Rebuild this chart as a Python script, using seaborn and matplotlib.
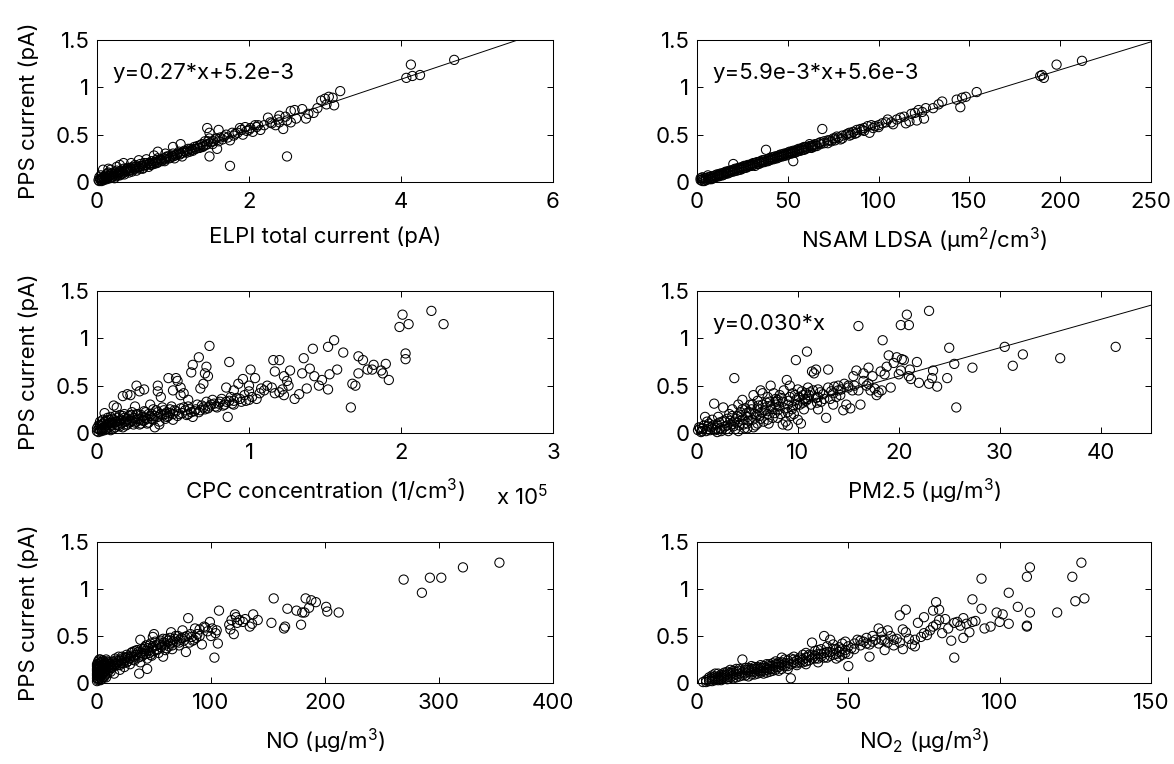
import numpy as np
import pandas as pd
import matplotlib
matplotlib.use("Agg")
import matplotlib.pyplot as plt
from matplotlib.ticker import FuncFormatter, FormatStrFormatter
import seaborn as sns

# ---------------- data ----------------
# Panel 1: ELPI total current (pA) vs PPS current (pA)
elpi_pts = [
    (0.02, 0.02), (0.03, 0.01), (0.04, 0.03), (0.05, 0.02), (0.06, 0.04), (0.07, 0.03), (0.08, 0.05),
    (0.10, 0.03), (0.10, 0.06), (0.12, 0.04), (0.12, 0.08), (0.14, 0.05), (0.15, 0.10), (0.16, 0.06),
    (0.18, 0.07), (0.20, 0.05), (0.20, 0.09), (0.22, 0.08), (0.24, 0.10), (0.25, 0.06), (0.26, 0.12),
    (0.28, 0.09), (0.30, 0.10), (0.30, 0.07), (0.32, 0.12), (0.34, 0.09), (0.35, 0.14), (0.37, 0.11),
    (0.40, 0.12), (0.40, 0.15), (0.42, 0.10), (0.45, 0.13), (0.47, 0.16), (0.50, 0.14), (0.50, 0.18),
    (0.52, 0.12), (0.55, 0.16), (0.57, 0.19), (0.60, 0.17), (0.60, 0.14), (0.62, 0.20), (0.65, 0.18),
    (0.68, 0.16), (0.70, 0.20), (0.72, 0.22), (0.75, 0.19), (0.78, 0.23), (0.80, 0.21), (0.80, 0.25),
    (0.85, 0.22), (0.88, 0.25), (0.90, 0.24), (0.92, 0.27), (0.95, 0.25), (1.00, 0.27), (1.00, 0.30),
    (1.02, 0.25), (1.05, 0.29), (1.08, 0.32), (1.10, 0.30), (1.12, 0.27), (1.15, 0.33), (1.18, 0.31),
    (1.20, 0.35), (1.22, 0.32), (1.25, 0.34), (1.28, 0.37), (1.30, 0.35), (1.32, 0.38), (1.35, 0.36),
    (1.38, 0.40), (1.40, 0.38), (1.42, 0.43), (1.45, 0.40), (1.48, 0.46), (1.50, 0.42), (1.52, 0.40),
    (1.55, 0.45), (1.60, 0.43), (1.62, 0.47), (1.65, 0.45), (1.70, 0.50), (1.72, 0.47), (1.75, 0.44),
    (1.78, 0.52), (1.80, 0.49), (1.85, 0.52), (1.88, 0.57), (1.90, 0.55), (1.92, 0.50), (1.95, 0.58),
    (2.00, 0.55), (2.05, 0.53), (2.08, 0.60), (2.10, 0.58), (2.15, 0.55), (2.20, 0.60), (2.25, 0.68),
    (2.30, 0.62), (2.35, 0.60), (2.40, 0.63), (2.45, 0.56), (2.40, 0.70), (2.50, 0.65), (2.55, 0.75),
    (2.60, 0.76), (2.55, 0.63), (2.62, 0.67), (2.70, 0.77), (2.75, 0.67), (2.78, 0.72), (2.85, 0.73),
    (2.90, 0.78), (2.95, 0.86), (3.00, 0.88), (3.02, 0.82), (3.05, 0.90), (3.10, 0.89), (3.12, 0.81),
    (3.20, 0.96), (0.08, 0.13), (0.15, 0.14), (0.30, 0.18), (0.35, 0.20), (0.55, 0.23), (0.75, 0.28),
    (0.80, 0.32), (1.00, 0.37), (1.10, 0.40), (1.45, 0.57), (1.48, 0.52), (1.60, 0.55), (1.58, 0.35),
    (1.48, 0.27), (1.75, 0.17), (2.50, 0.27), (4.07, 1.10), (4.13, 1.24), (4.15, 1.12), (4.25, 1.13),
    (4.70, 1.29),
    (0.03, 0.05), (0.05, 0.07), (0.06, 0.01), (0.09, 0.02), (0.11, 0.05), (0.13, 0.03), (0.14, 0.09),
    (0.17, 0.04), (0.19, 0.09), (0.21, 0.06), (0.23, 0.04), (0.25, 0.09), (0.27, 0.07), (0.29, 0.11),
    (0.31, 0.08), (0.33, 0.10), (0.36, 0.08), (0.38, 0.13), (0.41, 0.14), (0.43, 0.12), (0.44, 0.15),
    (0.46, 0.11), (0.48, 0.14), (0.51, 0.16), (0.53, 0.15), (0.56, 0.14), (0.58, 0.17), (0.61, 0.15),
    (0.63, 0.18), (0.66, 0.20), (0.69, 0.19), (0.71, 0.18), (0.73, 0.20), (0.76, 0.21), (0.79, 0.20),
    (0.82, 0.23), (0.84, 0.24), (0.86, 0.23), (0.89, 0.22), (0.91, 0.26), (0.94, 0.27), (0.97, 0.26),
    (0.99, 0.28), (1.03, 0.28), (1.06, 0.30), (1.09, 0.29), (1.13, 0.31), (1.16, 0.32), (1.19, 0.33),
    (1.23, 0.35), (1.26, 0.33), (1.29, 0.35), (1.33, 0.36), (1.36, 0.39), (1.39, 0.37), (1.43, 0.39),
    (1.46, 0.43), (1.53, 0.43), (1.57, 0.46), (1.67, 0.48), (1.82, 0.51), (1.97, 0.54), (2.02, 0.57),
    (2.12, 0.60), (2.28, 0.63), (2.38, 0.66), (2.48, 0.69), (0.18, 0.13), (0.26, 0.16), (0.45, 0.20),
    (0.65, 0.24), (0.90, 0.30),
]

# Panel 2: NSAM LDSA (um2/cm3) vs PPS current
ldsa_pts = [
    (2, 0.02), (3, 0.03), (4, 0.01), (5, 0.04), (6, 0.03), (7, 0.05), (8, 0.04), (9, 0.06), (10, 0.07),
    (11, 0.06), (12, 0.08), (13, 0.07), (14, 0.09), (15, 0.10), (16, 0.09), (17, 0.11), (18, 0.10),
    (19, 0.12), (20, 0.13), (21, 0.12), (22, 0.14), (23, 0.13), (24, 0.15), (25, 0.16), (26, 0.15),
    (27, 0.17), (28, 0.16), (29, 0.18), (30, 0.19), (31, 0.18), (32, 0.20), (33, 0.19), (34, 0.21),
    (35, 0.22), (36, 0.21), (37, 0.23), (38, 0.22), (39, 0.24), (40, 0.25), (41, 0.24), (42, 0.26),
    (43, 0.25), (44, 0.27), (45, 0.28), (46, 0.27), (47, 0.29), (48, 0.28), (49, 0.30), (50, 0.31),
    (51, 0.30), (52, 0.32), (53, 0.31), (54, 0.33), (55, 0.34), (56, 0.33), (57, 0.35), (58, 0.36),
    (59, 0.34), (60, 0.37), (62, 0.38), (63, 0.36), (64, 0.39), (65, 0.40), (66, 0.38), (68, 0.42),
    (70, 0.43), (72, 0.41), (73, 0.44), (75, 0.46), (76, 0.44), (78, 0.47), (80, 0.49), (82, 0.50),
    (84, 0.52), (85, 0.50), (86, 0.53), (88, 0.55), (90, 0.56), (92, 0.57), (94, 0.59), (95, 0.52),
    (96, 0.60), (98, 0.59), (100, 0.60), (102, 0.62), (105, 0.66), (107, 0.63), (110, 0.66),
    (112, 0.68), (114, 0.69), (115, 0.62), (117, 0.64), (118, 0.72), (120, 0.73), (121, 0.65),
    (122, 0.76), (124, 0.74), (125, 0.67), (126, 0.78), (130, 0.78), (133, 0.82), (135, 0.85),
    (143, 0.87), (145, 0.79), (146, 0.89), (148, 0.90), (154, 0.95), (189, 1.12), (190, 1.13),
    (191, 1.10), (198, 1.24), (212, 1.28), (38, 0.34), (53, 0.22), (69, 0.56), (20, 0.19), (6, 0.07),
    (3, 0.05), (8, 0.03), (12, 0.06), (16, 0.11), (20, 0.11), (24, 0.13), (28, 0.18), (32, 0.17),
    (36, 0.23), (40, 0.23), (44, 0.25), (48, 0.30), (52, 0.30), (56, 0.35), (60, 0.35), (64, 0.37),
    (68, 0.40), (72, 0.44), (76, 0.46), (80, 0.46), (84, 0.49), (88, 0.52), (92, 0.54), (100, 0.58),
    (104, 0.63), (108, 0.61),
    (2, 0.04), (3, 0.01), (4, 0.04), (5, 0.02), (6, 0.05), (7, 0.03), (8, 0.06), (9, 0.04), (10, 0.05),
    (11, 0.08), (12, 0.07), (13, 0.09), (14, 0.07), (15, 0.08), (16, 0.10), (17, 0.09), (18, 0.12),
    (19, 0.11), (21, 0.14), (22, 0.12), (23, 0.15), (25, 0.14), (26, 0.17), (27, 0.15), (29, 0.17),
    (30, 0.17), (31, 0.20), (33, 0.21), (34, 0.19), (35, 0.20), (37, 0.21), (39, 0.22), (41, 0.26),
    (42, 0.24), (43, 0.27), (45, 0.26), (46, 0.29), (47, 0.27), (49, 0.28), (50, 0.29), (51, 0.32),
    (53, 0.33), (54, 0.31), (55, 0.32), (57, 0.33), (58, 0.34), (59, 0.37), (61, 0.36), (62, 0.40),
    (63, 0.38), (65, 0.38), (67, 0.41), (70, 0.41), (74, 0.43), (77, 0.48), (79, 0.45), (83, 0.51),
    (87, 0.51), (91, 0.55), (97, 0.57),
]

# Panel 3: CPC concentration (in units of 1e5 1/cm3) vs PPS current
cpc_pts = [
    (0.00, 0.02), (0.01, 0.04), (0.02, 0.03), (0.02, 0.08), (0.03, 0.05), (0.04, 0.10), (0.05, 0.06),
    (0.05, 0.12), (0.06, 0.04), (0.07, 0.09), (0.08, 0.14), (0.08, 0.06), (0.09, 0.11), (0.10, 0.08),
    (0.10, 0.15), (0.11, 0.05), (0.12, 0.12), (0.13, 0.09), (0.14, 0.16), (0.15, 0.07), (0.15, 0.13),
    (0.16, 0.10), (0.17, 0.18), (0.18, 0.12), (0.19, 0.08), (0.20, 0.15), (0.21, 0.11), (0.22, 0.19),
    (0.23, 0.13), (0.24, 0.09), (0.25, 0.16), (0.26, 0.12), (0.27, 0.20), (0.28, 0.14), (0.29, 0.10),
    (0.30, 0.17), (0.31, 0.13), (0.32, 0.22), (0.33, 0.15), (0.34, 0.11), (0.35, 0.18), (0.36, 0.20),
    (0.37, 0.14), (0.38, 0.06), (0.39, 0.24), (0.40, 0.17), (0.41, 0.12), (0.42, 0.20), (0.43, 0.27),
    (0.45, 0.15), (0.46, 0.22), (0.47, 0.18), (0.48, 0.25), (0.50, 0.20), (0.50, 0.14), (0.52, 0.23),
    (0.53, 0.18), (0.55, 0.26), (0.56, 0.21), (0.58, 0.24), (0.60, 0.20), (0.60, 0.28), (0.62, 0.22),
    (0.63, 0.17), (0.65, 0.25), (0.66, 0.30), (0.68, 0.24), (0.70, 0.27), (0.72, 0.33), (0.73, 0.26),
    (0.75, 0.30), (0.76, 0.35), (0.78, 0.28), (0.80, 0.31), (0.82, 0.36), (0.83, 0.29), (0.85, 0.33),
    (0.86, 0.17), (0.88, 0.38), (0.90, 0.30), (0.90, 0.34), (0.92, 0.37), (0.95, 0.33), (0.97, 0.40),
    (1.00, 0.35), (1.00, 0.44), (1.02, 0.38), (1.05, 0.36), (1.07, 0.42), (1.08, 0.47), (1.10, 0.45),
    (1.12, 0.50), (1.15, 0.48), (1.17, 0.42), (1.20, 0.43), (1.22, 0.46), (1.23, 0.60), (1.25, 0.55),
    (1.26, 0.50), (1.27, 0.66), (0.05, 0.21), (0.11, 0.29), (0.13, 0.27), (0.17, 0.39), (0.20, 0.41),
    (0.22, 0.40), (0.26, 0.50), (0.28, 0.44), (0.31, 0.46), (0.18, 0.20), (0.25, 0.28), (0.35, 0.30),
    (0.40, 0.50), (0.40, 0.44), (0.42, 0.38), (0.47, 0.58), (0.52, 0.58), (0.53, 0.55), (0.55, 0.48),
    (0.55, 0.40), (0.57, 0.42), (0.60, 0.35), (0.50, 0.45), (0.62, 0.64), (0.63, 0.72), (0.67, 0.80),
    (0.68, 0.47), (0.70, 0.52), (0.71, 0.63), (0.72, 0.70), (0.73, 0.60), (0.74, 0.92), (0.85, 0.48),
    (0.87, 0.75), (0.90, 0.45), (0.93, 0.52), (0.96, 0.57), (1.00, 0.50), (1.01, 0.67), (1.04, 0.58),
    (1.16, 0.77), (1.20, 0.77), (1.17, 0.65), (1.23, 0.40), (1.30, 0.36), (1.33, 0.41), (1.35, 0.63),
    (1.36, 0.79), (1.38, 0.47), (1.40, 0.68), (1.42, 0.89), (1.43, 0.60), (1.46, 0.50), (1.48, 0.56),
    (1.52, 0.91), (1.52, 0.46), (1.53, 0.62), (1.56, 0.98), (1.58, 0.67), (1.62, 0.85), (1.67, 0.27),
    (1.68, 0.52), (1.70, 0.50), (1.72, 0.63), (1.72, 0.81), (1.75, 0.77), (1.78, 0.67), (1.81, 0.67),
    (1.82, 0.72), (1.87, 0.66), (1.88, 0.63), (1.90, 0.73), (1.92, 0.56), (1.99, 1.12), (2.01, 1.25),
    (2.03, 0.84), (2.03, 0.78), (2.05, 1.15), (2.20, 1.29), (2.28, 1.15),
    (0.00, 0.05), (0.01, 0.01), (0.01, 0.08), (0.02, 0.12), (0.03, 0.02), (0.03, 0.09), (0.04, 0.05),
    (0.04, 0.14), (0.05, 0.03), (0.06, 0.08), (0.06, 0.13), (0.07, 0.05), (0.07, 0.16), (0.08, 0.10),
    (0.09, 0.03), (0.09, 0.17), (0.10, 0.11), (0.11, 0.14), (0.12, 0.06), (0.12, 0.18), (0.13, 0.12),
    (0.14, 0.08), (0.15, 0.19), (0.16, 0.14), (0.17, 0.06), (0.18, 0.16), (0.19, 0.13), (0.20, 0.09),
    (0.21, 0.18), (0.22, 0.12), (0.23, 0.22), (0.24, 0.16), (0.25, 0.11), (0.26, 0.20), (0.27, 0.15),
    (0.28, 0.09), (0.29, 0.19), (0.30, 0.13), (0.31, 0.23), (0.32, 0.16), (0.33, 0.10), (0.34, 0.20),
    (0.36, 0.15), (0.37, 0.25), (0.38, 0.18), (0.40, 0.22), (0.41, 0.09), (0.43, 0.19), (0.44, 0.24),
    (0.45, 0.20), (0.46, 0.17), (0.48, 0.21), (0.49, 0.28), (0.51, 0.24), (0.54, 0.20), (0.57, 0.27),
    (0.59, 0.19), (0.61, 0.25), (0.64, 0.23), (0.67, 0.22), (0.69, 0.29), (0.71, 0.25), (0.74, 0.28),
    (0.77, 0.31), (0.79, 0.27), (0.81, 0.33), (0.84, 0.30), (0.87, 0.34), (0.89, 0.31), (0.94, 0.36),
    (0.98, 0.34),
]

# Panel 4: PM2.5 (ug/m3) vs PPS current
pm25_pts = [
    (0.1, 0.03), (0.3, 0.05), (0.5, 0.02), (0.7, 0.08), (0.8, 0.17), (1.0, 0.04), (1.2, 0.10),
    (1.4, 0.06), (1.5, 0.14), (1.7, 0.31), (1.8, 0.03), (2.0, 0.09), (2.1, 0.17), (2.3, 0.05),
    (2.5, 0.12), (2.6, 0.27), (2.8, 0.07), (3.0, 0.15), (3.1, 0.02), (3.2, 0.20), (3.4, 0.09),
    (3.5, 0.25), (3.7, 0.58), (3.7, 0.12), (3.8, 0.04), (4.0, 0.18), (4.1, 0.30), (4.2, 0.08),
    (4.3, 0.22), (4.5, 0.35), (4.5, 0.14), (4.7, 0.05), (4.8, 0.26), (5.0, 0.17), (5.0, 0.10),
    (5.2, 0.22), (5.3, 0.30), (5.5, 0.14), (5.6, 0.40), (5.7, 0.20), (5.8, 0.08), (6.0, 0.26),
    (6.0, 0.34), (6.2, 0.18), (6.3, 0.45), (6.4, 0.22), (6.5, 0.30), (6.6, 0.12), (6.8, 0.27),
    (7.0, 0.38), (7.0, 0.20), (7.2, 0.33), (7.3, 0.50), (7.4, 0.25), (7.5, 0.16), (7.6, 0.42),
    (7.8, 0.30), (8.0, 0.35), (8.0, 0.24), (8.2, 0.40), (8.3, 0.20), (8.5, 0.33), (8.6, 0.45),
    (8.8, 0.12), (8.9, 0.56), (9.0, 0.08), (9.0, 0.30), (9.2, 0.38), (9.4, 0.25), (9.5, 0.42),
    (9.6, 0.20), (9.8, 0.77), (9.8, 0.35), (10.0, 0.46), (10.0, 0.14), (10.2, 0.30), (10.3, 0.10),
    (10.5, 0.40), (10.6, 0.25), (10.8, 0.34), (10.9, 0.86), (11.0, 0.48), (11.2, 0.43), (11.3, 0.30),
    (11.4, 0.65), (11.6, 0.63), (11.8, 0.67), (11.8, 0.37), (12.0, 0.25), (12.0, 0.46), (12.3, 0.33),
    (12.5, 0.41), (12.8, 0.16), (13.0, 0.67), (13.0, 0.48), (13.2, 0.36), (13.5, 0.30), (13.6, 0.49),
    (14.0, 0.50), (14.2, 0.40), (14.5, 0.24), (14.6, 0.52), (14.8, 0.30), (15.0, 0.50), (15.2, 0.26),
    (15.4, 0.45), (15.5, 0.60), (15.8, 0.66), (16.0, 1.13), (16.0, 0.45), (16.2, 0.30), (16.5, 0.63),
    (17.0, 0.69), (17.2, 0.45), (17.4, 0.60), (17.6, 0.47), (17.8, 0.40), (18.0, 0.43), (18.2, 0.65),
    (18.4, 0.98), (18.6, 0.62), (18.8, 0.70), (19.0, 0.82), (19.2, 0.48), (19.5, 0.74), (19.8, 0.80),
    (20.0, 0.62), (20.2, 0.66), (20.3, 0.78), (20.5, 0.77), (20.8, 1.25), (20.2, 1.14), (21.0, 1.14),
    (21.0, 0.60), (21.1, 0.67), (21.2, 0.57), (21.8, 0.75), (22.0, 0.53), (23.0, 1.29), (23.0, 0.52),
    (23.3, 0.58), (23.4, 0.66), (23.8, 0.49), (24.8, 0.58), (25.0, 0.90), (25.5, 0.73), (25.7, 0.27),
    (27.3, 0.69), (30.5, 0.91), (31.3, 0.71), (32.3, 0.83), (36.0, 0.79), (41.5, 0.91),
    (2.0, 0.01), (3.0, 0.08), (4.0, 0.11), (5.0, 0.05), (6.0, 0.10), (7.0, 0.14), (8.0, 0.16),
    (9.0, 0.22), (9.5, 0.28), (10.5, 0.32), (11.0, 0.36), (12.0, 0.38), (13.5, 0.42), (14.0, 0.45),
    (15.0, 0.48), (16.5, 0.55), (17.0, 0.52), (6.5, 0.42), (4.5, 0.25), (3.5, 0.18), (1.0, 0.12),
    (2.5, 0.04), (5.5, 0.30), (8.5, 0.09), (9.2, 0.50), (10.8, 0.42), (7.8, 0.36),
    (0.2, 0.06), (0.4, 0.01), (0.6, 0.05), (0.9, 0.02), (1.1, 0.07), (1.3, 0.03), (1.6, 0.08),
    (1.9, 0.05), (2.2, 0.11), (2.4, 0.02), (2.7, 0.13), (2.9, 0.04), (3.3, 0.13), (3.6, 0.07),
    (3.9, 0.15), (4.1, 0.02), (4.4, 0.19), (4.6, 0.09), (4.9, 0.21), (5.1, 0.13), (5.4, 0.25),
    (5.6, 0.06), (5.9, 0.19), (6.1, 0.29), (6.3, 0.15), (6.7, 0.24), (6.9, 0.32), (7.1, 0.10),
    (7.3, 0.28), (7.7, 0.21), (7.9, 0.33), (8.1, 0.28), (8.4, 0.37), (8.7, 0.26), (9.1, 0.34),
    (9.3, 0.18), (9.7, 0.40), (9.9, 0.30), (10.1, 0.38), (10.4, 0.44), (10.7, 0.36), (11.1, 0.40),
    (11.5, 0.45), (11.9, 0.32), (12.2, 0.43), (12.6, 0.36), (13.3, 0.44), (13.8, 0.38), (14.3, 0.46),
    (15.6, 0.50), (16.8, 0.50), (18.3, 0.45),
]

# Panel 5: NO (ug/m3) vs PPS current
no_pts = [
    (0, 0.02), (1, 0.05), (1, 0.10), (1, 0.15), (2, 0.07), (2, 0.20), (2, 0.12), (3, 0.03), (3, 0.17),
    (3, 0.22), (4, 0.09), (4, 0.14), (5, 0.06), (5, 0.19), (5, 0.24), (6, 0.11), (6, 0.16), (7, 0.08),
    (7, 0.21), (8, 0.13), (8, 0.25), (9, 0.10), (10, 0.18), (10, 0.22), (11, 0.14), (12, 0.20),
    (13, 0.16), (14, 0.23), (15, 0.18), (16, 0.26), (17, 0.20), (18, 0.22), (19, 0.28), (20, 0.19),
    (21, 0.24), (22, 0.26), (23, 0.21), (25, 0.27), (26, 0.30), (27, 0.23), (28, 0.26), (30, 0.29),
    (31, 0.33), (32, 0.25), (34, 0.30), (35, 0.35), (36, 0.27), (37, 0.10), (38, 0.46), (39, 0.32),
    (40, 0.29), (41, 0.36), (42, 0.38), (43, 0.31), (44, 0.15), (45, 0.34), (46, 0.40), (47, 0.30),
    (48, 0.37), (49, 0.49), (50, 0.34), (50, 0.52), (52, 0.40), (53, 0.36), (55, 0.43), (56, 0.38),
    (58, 0.28), (58, 0.47), (60, 0.41), (61, 0.37), (62, 0.45), (64, 0.42), (65, 0.54), (66, 0.40),
    (68, 0.47), (70, 0.44), (71, 0.50), (72, 0.40), (74, 0.48), (75, 0.56), (76, 0.45), (78, 0.33),
    (79, 0.50), (80, 0.69), (81, 0.43), (83, 0.49), (85, 0.46), (86, 0.58), (88, 0.52), (90, 0.57),
    (92, 0.41), (94, 0.60), (95, 0.59), (97, 0.55), (99, 0.65), (100, 0.50), (101, 0.58), (103, 0.27),
    (104, 0.53), (105, 0.56), (106, 0.42), (107, 0.77), (116, 0.62), (117, 0.57), (118, 0.67),
    (120, 0.52), (121, 0.73), (122, 0.70), (123, 0.64), (125, 0.67), (128, 0.65), (130, 0.68),
    (134, 0.60), (136, 0.63), (137, 0.73), (141, 0.67), (153, 0.64), (155, 0.90), (164, 0.58),
    (165, 0.60), (167, 0.79), (175, 0.77), (179, 0.62), (180, 0.75), (182, 0.75), (183, 0.90),
    (186, 0.80), (188, 0.88), (192, 0.86), (201, 0.81), (202, 0.76), (212, 0.75), (269, 1.10),
    (285, 0.96), (292, 1.12), (302, 1.12), (321, 1.23), (353, 1.28), (0, 0.08), (0, 0.13), (0, 0.18),
    (1, 0.20), (2, 0.25), (4, 0.04), (6, 0.23), (8, 0.06), (12, 0.12), (15, 0.10), (20, 0.14),
    (24, 0.17), (29, 0.20), (33, 0.24), (38, 0.22), (44, 0.26), (48, 0.29), (54, 0.32), (60, 0.35),
    (66, 0.36), (72, 0.43), (84, 0.45), (90, 0.50),
    (0, 0.05), (0, 0.10), (0, 0.15), (0, 0.20), (1, 0.03), (1, 0.08), (1, 0.12), (1, 0.17), (1, 0.23),
    (2, 0.04), (2, 0.10), (2, 0.15), (2, 0.18), (3, 0.06), (3, 0.12), (3, 0.25), (4, 0.11), (4, 0.19),
    (4, 0.22), (5, 0.09), (5, 0.14), (6, 0.06), (6, 0.20), (7, 0.13), (7, 0.18), (8, 0.16), (9, 0.20),
    (9, 0.23), (10, 0.15), (11, 0.20), (12, 0.17), (13, 0.22), (14, 0.19), (16, 0.21), (17, 0.24),
    (18, 0.19), (19, 0.24), (21, 0.21), (22, 0.28), (24, 0.24), (26, 0.22), (27, 0.28), (29, 0.26),
    (30, 0.32), (32, 0.28), (33, 0.34), (35, 0.30), (36, 0.33), (38, 0.28), (39, 0.36), (41, 0.31),
    (42, 0.34), (43, 0.40), (45, 0.37), (46, 0.32), (47, 0.42), (49, 0.38), (51, 0.44), (52, 0.35),
    (54, 0.41), (56, 0.45), (57, 0.40), (59, 0.43), (61, 0.47), (63, 0.39), (64, 0.48), (67, 0.44),
    (69, 0.50), (73, 0.46), (77, 0.49), (82, 0.52), (87, 0.48),
]

# Panel 6: NO2 (ug/m3) vs PPS current
no2_pts = [
    (2, 0.01), (3, 0.03), (4, 0.02), (4, 0.06), (5, 0.04), (5, 0.08), (6, 0.05), (6, 0.10), (7, 0.03),
    (7, 0.07), (8, 0.09), (8, 0.05), (9, 0.11), (9, 0.07), (10, 0.06), (10, 0.12), (11, 0.09),
    (11, 0.14), (12, 0.08), (12, 0.11), (13, 0.15), (13, 0.06), (14, 0.10), (14, 0.13), (15, 0.25),
    (15, 0.08), (16, 0.14), (16, 0.11), (17, 0.16), (17, 0.07), (18, 0.12), (18, 0.18), (19, 0.15),
    (19, 0.09), (20, 0.17), (20, 0.13), (21, 0.11), (21, 0.19), (22, 0.16), (22, 0.10), (23, 0.20),
    (23, 0.14), (24, 0.18), (24, 0.12), (25, 0.21), (25, 0.15), (26, 0.17), (26, 0.23), (27, 0.20),
    (27, 0.13), (28, 0.22), (28, 0.27), (29, 0.18), (29, 0.25), (30, 0.21), (30, 0.15), (31, 0.26),
    (31, 0.05), (32, 0.22), (32, 0.28), (33, 0.24), (33, 0.19), (34, 0.27), (34, 0.22), (35, 0.30),
    (35, 0.25), (36, 0.20), (36, 0.32), (37, 0.28), (37, 0.24), (38, 0.43), (38, 0.30), (39, 0.26),
    (39, 0.34), (40, 0.31), (40, 0.22), (41, 0.36), (41, 0.28), (42, 0.50), (42, 0.32), (43, 0.27),
    (43, 0.39), (44, 0.46), (44, 0.33), (45, 0.30), (45, 0.41), (46, 0.36), (46, 0.26), (47, 0.38),
    (47, 0.33), (48, 0.42), (48, 0.30), (49, 0.44), (49, 0.35), (50, 0.18), (50, 0.31), (51, 0.37),
    (52, 0.42), (53, 0.46), (54, 0.40), (55, 0.44), (56, 0.48), (57, 0.28), (57, 0.41), (58, 0.50),
    (59, 0.46), (60, 0.58), (60, 0.42), (61, 0.54), (62, 0.46), (62, 0.35), (63, 0.56), (64, 0.50),
    (65, 0.40), (66, 0.47), (67, 0.43), (67, 0.72), (68, 0.57), (68, 0.36), (69, 0.78), (69, 0.54),
    (70, 0.47), (71, 0.41), (72, 0.39), (72, 0.46), (73, 0.64), (74, 0.49), (75, 0.53), (75, 0.70),
    (76, 0.51), (77, 0.56), (78, 0.77), (78, 0.60), (79, 0.86), (79, 0.62), (80, 0.67), (80, 0.78),
    (81, 0.53), (82, 0.68), (83, 0.58), (84, 0.45), (85, 0.27), (85, 0.64), (86, 0.65), (87, 0.61),
    (88, 0.48), (88, 0.69), (89, 0.63), (90, 0.54), (91, 0.65), (91, 0.89), (92, 0.66), (94, 1.11),
    (94, 0.79), (95, 0.58), (97, 0.60), (99, 0.75), (100, 0.65), (101, 0.73), (103, 0.63), (103, 0.96),
    (106, 0.81), (109, 1.13), (109, 0.61), (109, 0.60), (110, 1.23), (110, 0.75), (119, 0.75),
    (124, 1.13), (125, 0.87), (127, 1.28), (128, 0.90),
    (3, 0.01), (4, 0.04), (5, 0.02), (5, 0.06), (6, 0.03), (6, 0.07), (7, 0.05), (7, 0.10), (8, 0.03),
    (8, 0.07), (9, 0.05), (9, 0.09), (10, 0.09), (10, 0.04), (11, 0.06), (11, 0.11), (12, 0.13),
    (12, 0.05), (13, 0.09), (13, 0.12), (14, 0.07), (14, 0.15), (15, 0.11), (16, 0.08), (16, 0.16),
    (17, 0.12), (17, 0.14), (18, 0.09), (18, 0.15), (19, 0.12), (19, 0.17), (20, 0.10), (20, 0.15),
    (21, 0.16), (21, 0.13), (22, 0.13), (22, 0.18), (23, 0.16), (23, 0.11), (24, 0.15), (24, 0.20),
    (25, 0.13), (25, 0.18), (26, 0.20), (26, 0.14), (27, 0.17), (27, 0.22), (28, 0.19), (28, 0.15),
    (29, 0.21), (30, 0.24), (30, 0.18), (31, 0.20), (32, 0.25), (33, 0.21), (34, 0.25), (35, 0.22),
    (36, 0.27), (36, 0.23), (37, 0.30), (38, 0.26), (39, 0.29), (40, 0.26), (40, 0.35), (41, 0.31),
    (42, 0.27), (43, 0.33), (44, 0.29), (45, 0.36), (46, 0.31), (47, 0.28), (48, 0.36), (49, 0.32),
    (50, 0.39), (52, 0.36), (54, 0.45), (56, 0.42), (58, 0.44), (61, 0.46), (63, 0.43), (65, 0.46),
]

# Linear fits printed in the panels (slope, intercept)
elpi_fit = (0.27, 5.2e-3)
ldsa_fit = (5.9e-3, 5.6e-3)
pm25_fit = (0.030, 0.0)

y_label = "PPS current (pA)"
panel_xlabels = [
    "ELPI total current (pA)",
    "NSAM LDSA (\u03bcm$^2$/cm$^3$)",
    "CPC concentration (1/cm$^3$)",
    "PM2.5 (\u03bcg/m$^3$)",
    "NO (\u03bcg/m$^3$)",
    "NO$_2$ (\u03bcg/m$^3$)",
]
fit_texts = ["y=0.27*x+5.2e-3", "y=5.9e-3*x+5.6e-3", None, "y=0.030*x", None, None]
x_ticks = [
    [0, 2, 4, 6],
    [0, 50, 100, 150, 200, 250],
    [0, 1e5, 2e5, 3e5],
    [0, 10, 20, 30, 40],
    [0, 100, 200, 300, 400],
    [0, 50, 100, 150],
]
x_limits = [(0, 6), (0, 250), (0, 3e5), (0, 45), (0, 400), (0, 150)]
y_ticks = [0, 0.5, 1, 1.5]
cpc_scale = 1e5

# ---------------- figure ----------------
sns.set_theme(style="ticks")
FONT = "Inter"
plt.rcParams["font.family"] = [FONT, "Liberation Sans", "DejaVu Sans"]
plt.rcParams["mathtext.fontset"] = "custom"
plt.rcParams["mathtext.rm"] = FONT
plt.rcParams["mathtext.it"] = FONT + ":italic"
plt.rcParams["mathtext.bf"] = FONT + ":bold"
plt.rcParams["axes.linewidth"] = 0.75

W, H = 1174, 764
fig = plt.figure(figsize=(W / 100, H / 100), dpi=100)

col_left = [97, 697]
col_right = [553, 1151]
row_top = [40, 291, 542]
row_bottom = [182, 433, 683]

def frame(col, row):
    l = col_left[col] / W
    w = (col_right[col] - col_left[col]) / W
    b = 1 - row_bottom[row] / H
    h = (row_bottom[row] - row_top[row]) / H
    return [l, b, w, h]

def to_df(pts, scale=1.0):
    df = pd.DataFrame(pts, columns=["x", "y"])
    df["x"] = df["x"] * scale
    return df

datasets = [
    to_df(elpi_pts), to_df(ldsa_pts), to_df(cpc_pts, cpc_scale),
    to_df(pm25_pts), to_df(no_pts), to_df(no2_pts),
]
fits = [elpi_fit, ldsa_fit, None, pm25_fit, None, None]

FS = 16
for i, df in enumerate(datasets):
    row, col = divmod(i, 2)
    ax = fig.add_axes(frame(col, row))
    sns.scatterplot(data=df, x="x", y="y", ax=ax, marker="o", s=44,
                    facecolor="none", edgecolor="black", linewidth=0.75,
                    legend=False, clip_on=False, zorder=3)
    if fits[i] is not None:
        a, b = fits[i]
        xs = np.array(x_limits[i])
        sns.lineplot(x=xs, y=a * xs + b, ax=ax, color="black", linewidth=0.7, zorder=2)
    ax.set_xlim(*x_limits[i])
    ax.set_ylim(0, 1.5)
    ax.set_xticks(x_ticks[i])
    ax.set_yticks(y_ticks)
    ax.yaxis.set_major_formatter(FormatStrFormatter("%g"))
    if i == 2:
        ax.xaxis.set_major_formatter(FuncFormatter(lambda v, p: "%g" % (v / cpc_scale)))
    else:
        ax.xaxis.set_major_formatter(FormatStrFormatter("%g"))
    ax.tick_params(direction="in", top=True, right=True, length=4, width=0.7,
                   labelsize=FS, color="black", labelcolor="black")
    ax.tick_params(axis="x", pad=7)
    ax.tick_params(axis="y", pad=5.5)
    for sp in ax.spines.values():
        sp.set_visible(True)
        sp.set_color("black")
        sp.set_linewidth(0.75)
    ax.set_facecolor("white")
    ax.set_xlabel(panel_xlabels[i], fontsize=FS, color="black")
    ax.xaxis.set_label_coords(0.5, -0.31)
    if col == 0:
        ax.set_ylabel(y_label, fontsize=FS, color="black")
        ax.yaxis.set_label_coords(-0.127, 0.5)
    else:
        ax.set_ylabel("")
    if fit_texts[i]:
        ax.text(0.033, 0.77, fit_texts[i], transform=ax.transAxes, fontsize=FS,
                ha="left", va="center", color="black")
    if i == 2:
        ax.text(0.875, -0.45, "x 10$^5$", transform=ax.transAxes, fontsize=FS,
                ha="left", va="center", color="black")

fig.savefig("out.png", dpi=100, facecolor="white")
